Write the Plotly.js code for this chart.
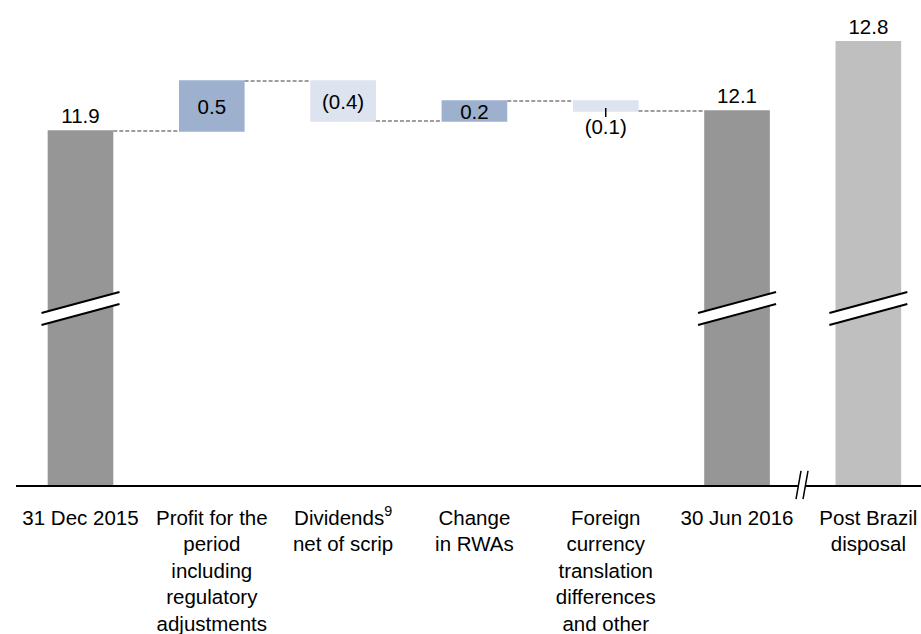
<!DOCTYPE html>
<html>
<head>
<meta charset="utf-8">
<script src="https://cdn.plot.ly/plotly-3.0.1.min.js"></script>
<style>
  html, body { margin: 0; padding: 0; background: #fff; }
  #chart { width: 921px; height: 634px; }
</style>
</head>
<body>
<div id="chart"></div>
<script>
// Data
const categories = [
    '31 Dec 2015',
    'Profit for the<br>period<br>including<br>regulatory<br>adjustments',
    'Dividends<sup>9</sup><br>net of scrip',
    'Change<br>in RWAs',
    'Foreign<br>currency<br>translation<br>differences<br>and other',
    '30 Jun 2016',
    'Post Brazil<br>disposal'
];
const bridgeValues = [11.9, 0.5, -0.4, 0.2, -0.1, 12.1];
const bridgeMeasures = ['absolute', 'relative', 'relative', 'relative', 'relative', 'total'];
const postBrazilValue = 12.8;

// which bars get the "//" axis break
const brokenBars = [0, 5, 6];

const fmt = v => v < 0 ? '(' + Math.abs(v).toFixed(1) + ')' : v.toFixed(1);
const xIdx = categories.map((_, i) => i);
const font = 'Arial, "Liberation Sans", sans-serif';

const waterfall = {
    type: 'waterfall',
    x: xIdx.slice(0, 6),
    y: bridgeValues,
    measure: bridgeMeasures,
    width: 0.5,
    text: bridgeValues.map(fmt),
    textposition: ['outside', 'inside', 'inside', 'inside', 'outside', 'outside'],
    insidetextanchor: 'middle',
    constraintext: 'none',
    textfont: { family: font, size: 20.5, color: '#000' },
    insidetextfont: { family: font, size: 20.5, color: '#000' },
    outsidetextfont: { family: font, size: 20.5, color: '#000' },
    increasing: { marker: { color: '#9db0ce' } },
    decreasing: { marker: { color: '#dde4ef' } },
    totals: { marker: { color: '#969696' } },
    connector: { mode: 'between', line: { color: '#7f7f7f', width: 1.5, dash: '4px,2px' } },
    hoverinfo: 'skip'
};

const post = {
    type: 'bar',
    x: [6],
    y: [postBrazilValue],
    width: 0.5,
    marker: { color: '#bfbfbf' },
    text: [fmt(postBrazilValue)],
    textposition: 'outside',
    textfont: { family: font, size: 20.5, color: '#000' },
    hoverinfo: 'skip'
};

// running total after each bridge step (for the small leader tick)
let run = 0;
const totals = bridgeValues.map((v, i) => {
    run = bridgeMeasures[i] === 'total' ? run : (bridgeMeasures[i] === 'absolute' ? v : run + v);
    return run;
});

const shapes = [];
// break marks on the tall bars
brokenBars.forEach(i => {
    const a = i - 0.297, b = i + 0.297;
    shapes.push({
        type: 'path', xref: 'x', yref: 'y',
        path: `M ${a} 10.08 L ${b} 10.29 L ${b} 10.17 L ${a} 9.96 Z`,
        fillcolor: '#fff', line: { width: 0 }, layer: 'above'
    });
    shapes.push({ type: 'line', xref: 'x', yref: 'y', x0: a, y0: 10.08, x1: b, y1: 10.29,
        line: { color: '#000', width: 2 } });
    shapes.push({ type: 'line', xref: 'x', yref: 'y', x0: a, y0: 9.96, x1: b, y1: 10.17,
        line: { color: '#000', width: 2 } });
});
// axis line with a gap
shapes.push({ type: 'line', xref: 'paper', yref: 'paper', x0: 0.0174, x1: 0.8665, y0: -0.002, y1: -0.002,
    line: { color: '#000', width: 2 } });
shapes.push({ type: 'line', xref: 'paper', yref: 'paper', x0: 0.875, x1: 1, y0: -0.002, y1: -0.002,
    line: { color: '#000', width: 2 } });
shapes.push({ type: 'line', xref: 'paper', yref: 'paper', x0: 0.8643, y0: -0.029, x1: 0.8697, y1: 0.029,
    line: { color: '#000', width: 1.5 } });
shapes.push({ type: 'line', xref: 'paper', yref: 'paper', x0: 0.8719, y0: -0.029, x1: 0.8773, y1: 0.029,
    line: { color: '#000', width: 1.5 } });
// leader tick under the FX step
shapes.push({ type: 'line', xref: 'x', yref: 'y', x0: 4, x1: 4, y0: totals[4] + 0.03, y1: totals[4] - 0.06,
    line: { color: '#000', width: 1.5 } });

const layout = {
    width: 921,
    height: 634,
    margin: { l: 0, r: 0, t: 0, b: 149 },
    paper_bgcolor: '#fff',
    plot_bgcolor: '#fff',
    showlegend: false,
    font: { family: font, size: 20.5, color: '#000' },
    xaxis: {
        range: [-0.613, 6.401],
        tickvals: xIdx,
        ticktext: categories,
        showgrid: false,
        zeroline: false,
        showline: false,
        ticks: '',
        ticklabelstandoff: 18,
        tickfont: { family: font, size: 20.5, color: '#000' },
        fixedrange: true
    },
    yaxis: {
        range: [8.36, 13.21],
        visible: false,
        showgrid: false,
        zeroline: false,
        fixedrange: true
    },
    shapes: shapes
};

Plotly.newPlot('chart', [waterfall, post], layout, { displayModeBar: false, staticPlot: true });
</script>
</body>
</html>
